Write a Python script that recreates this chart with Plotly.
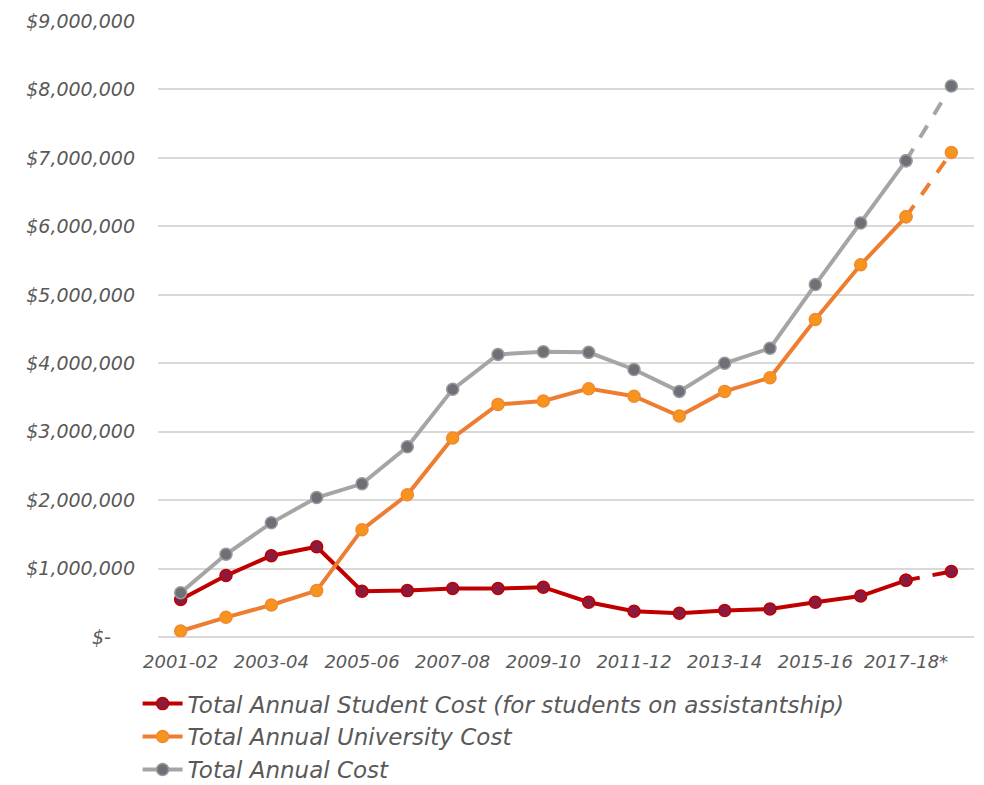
import plotly.graph_objects as go

categories = ["2001-02", "2002-03", "2003-04", "2004-05", "2005-06", "2006-07",
              "2007-08", "2008-09", "2009-10", "2010-11", "2011-12", "2012-13",
              "2013-14", "2014-15", "2015-16", "2016-17", "2017-18*", "2018-19*"]

student_cost = [550000, 900000, 1190000, 1320000, 670000, 680000, 710000, 710000, 730000,
                510000, 380000, 350000, 390000, 410000, 510000, 600000, 830000, 960000]
university_cost = [90000, 290000, 470000, 680000, 1570000, 2080000, 2910000, 3400000, 3450000,
                   3630000, 3520000, 3230000, 3590000, 3790000, 4640000, 5440000, 6140000, 7080000]
total_cost = [650000, 1210000, 1670000, 2040000, 2240000, 2780000, 3620000, 4130000, 4170000,
              4160000, 3910000, 3590000, 4000000, 4220000, 5150000, 6050000, 6960000, 8050000]

series_names = ["Total Annual Student Cost (for students on assistantship)",
                "Total Annual University Cost",
                "Total Annual Cost"]

y_tick_vals = [0, 1000000, 2000000, 3000000, 4000000, 5000000, 6000000, 7000000, 8000000, 9000000]
y_tick_text = ["$-\u00a0\u00a0\u00a0\u00a0", "$1,000,000", "$2,000,000", "$3,000,000", "$4,000,000",
               "$5,000,000", "$6,000,000", "$7,000,000", "$8,000,000", "$9,000,000"]
x_tick_vals = categories[0::2]

styles = [
    dict(line="#c00000", marker="#8b1a3e", outline="#c00000"),
    dict(line="#ed7d31", marker="#f7941d", outline="#f08a30"),
    dict(line="#a5a5a5", marker="#6d7177", outline="#9a9a9a"),
]
data = [student_cost, university_cost, total_cost]

fig = go.Figure()

# dashed projection segments (drawn first)
for vals, st in zip(data, styles):
    yd = [None] * (len(vals) - 2) + vals[-2:]
    fig.add_trace(go.Scatter(
        x=categories, y=yd, mode="lines+markers", showlegend=False, hoverinfo="skip",
        line=dict(color=st["line"], width=4, dash="14px,13px"),
        marker=dict(size=12, color=st["marker"], line=dict(color=st["outline"], width=1.5)),
    ))

for vals, st, name in zip(data, styles, series_names):
    ys = vals[:-1] + [None]
    fig.add_trace(go.Scatter(
        x=categories, y=ys, mode="lines+markers", name=name,
        line=dict(color=st["line"], width=4),
        marker=dict(size=12, color=st["marker"], line=dict(color=st["outline"], width=1.5)),
    ))

font_family = "DejaVu Sans"
fig.update_layout(
    width=984, height=785,
    margin=dict(l=158, r=10, t=19, b=147),
    paper_bgcolor="white", plot_bgcolor="white",
    font=dict(family=font_family, color="#595959"),
    legend=dict(
        x=-0.025, y=0.131, xref="paper", yref="container", xanchor="left", yanchor="top",
        orientation="v", traceorder="normal",
        font=dict(size=23, color="#595959", style="italic"),
        itemwidth=40, bgcolor="rgba(0,0,0,0)",
    ),
    xaxis=dict(
        type="category", categoryorder="array", categoryarray=categories,
        range=[-0.5, len(categories) - 0.5],
        tickmode="array", tickvals=x_tick_vals, ticktext=x_tick_vals,
        showgrid=False, showline=False, zeroline=False,
        tickfont=dict(size=18, color="#595959", style="italic"),
        ticks="", ticklabelstandoff=12,
    ),
    yaxis=dict(
        range=[0, 9000000], tickmode="array", tickvals=y_tick_vals, ticktext=y_tick_text,
        showgrid=True, gridcolor="#d9d9d9", gridwidth=1.5,
        zeroline=True, zerolinecolor="#d9d9d9", zerolinewidth=1.5,
        showline=False,
        tickfont=dict(size=19, color="#595959", style="italic"),
        ticks="", ticklabelstandoff=22,
    ),
)

fig.write_html("out.html")
